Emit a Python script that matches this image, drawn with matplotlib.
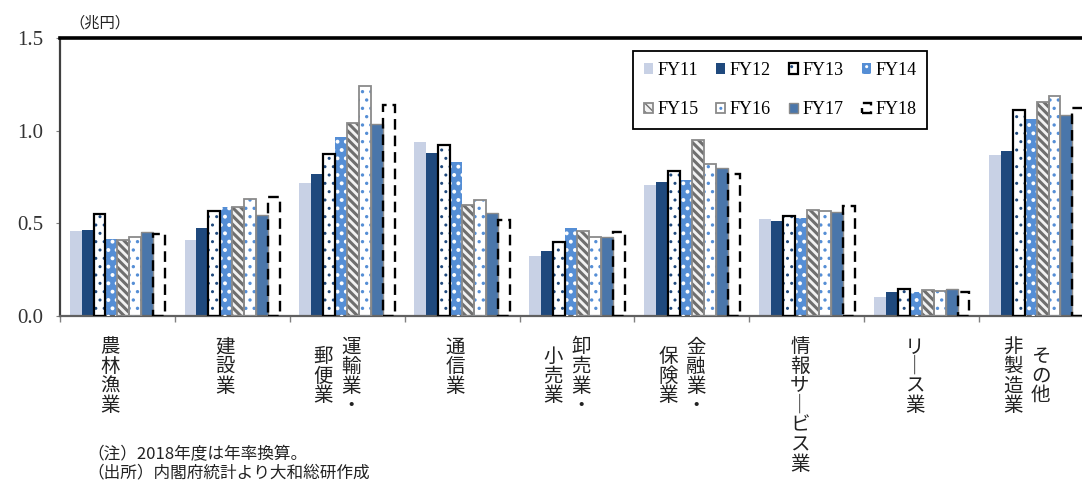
import matplotlib
matplotlib.use("Agg")
import numpy as np
import matplotlib.pyplot as plt
from matplotlib.legend_handler import HandlerTuple

# category labels, one entry per vertical column (right column first)
category_cols = [
    ["農林漁業"], ["建設業"], ["運輸業・", "郵便業"], ["通信業"],
    ["卸売業・", "小売業"], ["金融業・", "保険業"], ["情報サービス業"],
    ["リース業"], ["その他", "非製造業"],
]
series = ["FY11", "FY12", "FY13", "FY14", "FY15", "FY16", "FY17", "FY18"]

fy11 = [0.46, 0.41, 0.715, 0.937, 0.322, 0.709, 0.522, 0.104, 0.871]
fy12 = [0.465, 0.473, 0.767, 0.878, 0.351, 0.722, 0.515, 0.127, 0.891]
fy13 = [0.55, 0.567, 0.873, 0.922, 0.40, 0.782, 0.54, 0.146, 1.111]
fy14 = [0.416, 0.589, 0.967, 0.833, 0.473, 0.733, 0.531, 0.131, 1.064]
fy15 = [0.41, 0.589, 1.04, 0.60, 0.46, 0.949, 0.571, 0.138, 1.155]
fy16 = [0.424, 0.631, 1.24, 0.626, 0.427, 0.822, 0.564, 0.133, 1.188]
fy17 = [0.455, 0.544, 1.038, 0.558, 0.424, 0.80, 0.56, 0.147, 1.087]
fy18 = [0.44, 0.644, 1.14, 0.52, 0.451, 0.764, 0.595, 0.127, 1.12]
values = [fy11, fy12, fy13, fy14, fy15, fy16, fy17, fy18]

notes = ["（注）2018年度は年率換算。", "（出所）内閣府統計より大和総研作成"]

# face, hatch, hatch colour + width, edge colour, edge width, edge style
styles = [
    dict(face="#c8d1e5", hatch=None, hc=None, hw=1, edge="none", lw=0, ls="-"),
    dict(face="#1f497d", hatch=None, hc=None, hw=1, edge="none", lw=0, ls="-"),
    dict(face="white", hatch="..", hc="#1f497d", hw=1.0, edge="black", lw=1.6, ls="-"),
    dict(face="#558ed5", hatch="..", hc="white", hw=1.6, edge="none", lw=0, ls="-"),
    dict(face="#f2f2f2", hatch="\\\\\\\\", hc="#6f6f6f", hw=2.2, edge="#8a8a8a", lw=1.3, ls="-"),
    dict(face="white", hatch="..", hc="#558ed5", hw=1.2, edge="#8a8a8a", lw=1.3, ls="-"),
    dict(face="#4a76aa", hatch=None, hc=None, hw=1, edge="#8a8a8a", lw=1.0, ls="-"),
    dict(face="white", hatch=None, hc=None, hw=1, edge="black", lw=1.7, ls=(0, (4.5, 2.5))),
]

JP = ["Noto Sans CJK JP", "DejaVu Sans"]
SERIF = ["Liberation Serif", "DejaVu Serif"]

fig = plt.figure(figsize=(10.82, 4.82), dpi=100)
ax = fig.add_axes([60 / 1082, 1 - 316 / 482, 1034 / 1082, 278 / 482])

n = len(category_cols)
x = np.arange(n) + 0.5
w = 0.104
handles = []
for j, (vals, st) in enumerate(zip(values, styles)):
    xs = x + (j - 3.5) * w
    parts = [ax.bar(xs, vals, w, color=st["face"], linewidth=0, zorder=2)]
    if st["hatch"]:
        with plt.rc_context({"hatch.linewidth": st["hw"]}):
            parts.append(ax.bar(xs, vals, w, color="none", edgecolor=st["hc"],
                                hatch=st["hatch"], linewidth=0, zorder=3))
    if st["lw"] > 0:
        parts.append(ax.bar(xs, vals, w, fill=False, edgecolor=st["edge"],
                            linewidth=st["lw"], linestyle=st["ls"], zorder=4))
    handles.append(tuple(p[0] for p in parts))

ax.set_xlim(0, n)
ax.set_ylim(0, 1.5)
ax.set_yticks([0, 0.5, 1.0, 1.5])
ax.set_yticklabels([f"{v:.1f}" for v in [0, 0.5, 1.0, 1.5]],
                   fontfamily=SERIF, fontsize=15, color="#333333")
ax.set_xticks(np.arange(n + 1))
ax.set_xticklabels([])
ax.tick_params(axis="y", length=3, color="#808080", pad=9)
ax.tick_params(axis="x", length=4, color="#808080", width=1)

ax.spines["top"].set_linewidth(2.6)
ax.spines["top"].set_color("black")
ax.spines["left"].set_linewidth(1.6)
ax.spines["left"].set_color("#404040")
ax.spines["bottom"].set_linewidth(1.6)
ax.spines["bottom"].set_color("#606060")
ax.spines["right"].set_visible(False)

# vertical category labels
char_h = 19.5
for i, cols in enumerate(category_cols):
    if len(cols) == 1:
        dxs = [-7]
    else:
        dxs = [4, -24]
    longest = max(len(c) for c in cols)
    for col, dx in zip(cols, dxs):
        shift = (longest - len(col)) * char_h / 2
        for k, ch in enumerate(col):
            ch = {"ー": "｜"}.get(ch, ch)
            ax.annotate(ch, xy=(x[i], 0), xycoords=("data", "axes fraction"),
                        xytext=(dx, -31 - shift - k * char_h),
                        textcoords="offset pixels", ha="center", va="center",
                        fontsize=14, family=JP, color="#222222",
                        annotation_clip=False)

# legend in row order FY11..FY14 / FY15..FY18
order = [0, 4, 1, 5, 2, 6, 3, 7]
leg = ax.legend([handles[k] for k in order], [series[k] for k in order],
                handler_map={tuple: HandlerTuple(ndivide=1, pad=0)},
                ncol=4, loc="upper left", bbox_to_anchor=(0.554, 0.953),
                borderaxespad=0, fancybox=False, framealpha=1,
                edgecolor="black", handlelength=0.5, handleheight=0.5,
                handletextpad=0.25, columnspacing=1.0, labelspacing=1.25,
                borderpad=0.6, prop={"family": SERIF, "size": 13})
leg.get_frame().set_linewidth(1.3)
leg.set_zorder(10)

fig.text(100 / 1082, 1 - 23 / 482, "（兆円）", ha="center", va="center",
         fontsize=11, family=JP, color="#222222")
for k, t in enumerate(notes):
    fig.text(87 / 1082, 1 - (455 + 18 * k) / 482, t, ha="left", va="center",
             fontsize=12, family=JP, color="#222222")

fig.savefig("out.png", dpi=100)
